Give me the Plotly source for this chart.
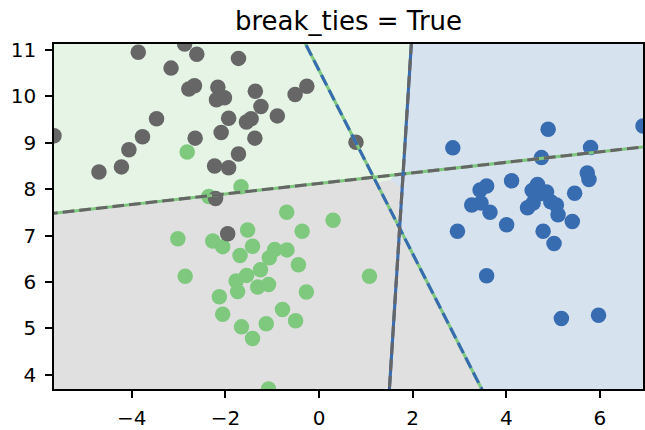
import numpy as np
import plotly.graph_objects as go

# ---------------- data ----------------
# class 0 (green points)
x0 = [-2.815, -2.355, -1.666, -0.69, -3.015, -2.858, -2.27, -2.057, -1.525, -1.42,
      -1.687, -0.946, -1.06, -0.685, -0.36, 0.30, -0.44, -0.27, -1.25, -1.546,
      -1.77, -1.738, -1.31, -1.078, -2.128, -2.057, -0.78, -0.50, -1.655, -1.127,
      -1.42, -1.078, 1.078]
y0 = [8.80, 7.84, 8.05, 7.50, 6.93, 6.12, 6.88, 6.76, 7.12, 6.77,
      6.57, 6.70, 6.52, 6.69, 7.09, 7.33, 6.37, 5.78, 6.26, 6.14,
      6.02, 5.79, 5.89, 5.945, 5.68, 5.30, 5.405, 5.16, 5.03, 5.095,
      4.78, 3.69, 6.12]

# class 1 (blue points)
x1 = [4.894, 2.858, 5.80, 4.752, 5.73, 5.766, 4.113, 3.58, 3.44, 4.666,
      4.553, 4.86, 4.716, 5.46, 3.262, 3.46, 3.652, 4.454, 4.574, 4.95,
      5.07, 5.106, 5.41, 4.007, 2.957, 4.787, 5.02, 3.58, 5.177, 5.97,
      6.92]
y1 = [9.29, 8.89, 8.90, 8.68, 8.35, 8.21, 8.18, 8.07, 7.98, 8.10,
      7.97, 7.94, 7.90, 7.91, 7.66, 7.70, 7.50, 7.60, 7.70, 7.73,
      7.66, 7.45, 7.30, 7.23, 7.09, 7.09, 6.83, 6.13, 5.21, 5.28,
      9.36]

# class 2 (grey points)
x2 = [-2.87, -2.61, -1.72, -3.16, -2.78, -2.66, -2.16, -2.19, -2.02, -1.36,
      -0.51, -0.26, -1.24, -0.89, -1.93, -1.55, -1.45, -2.09, -1.37, -2.645,
      -1.72, -2.23, -1.93, -5.66, -4.70, -4.22, -4.06, -3.77, -3.47, -3.86,
      -2.21, -1.95, 0.79]
y2 = [11.13, 10.91, 10.82, 10.61, 10.16, 10.23, 10.20, 9.93, 9.97, 10.11,
      10.04, 10.22, 9.78, 9.58, 9.53, 9.45, 9.52, 9.22, 9.10, 9.10,
      8.76, 8.50, 8.46, 9.15, 8.37, 8.48, 8.85, 9.13, 9.52, 10.95,
      7.80, 7.04, 9.01]

# one-vs-one linear classifiers for class pairs (0,1), (0,2), (1,2)
pairs = [(0, 1), (0, 2), (1, 2)]
coef_x = [-0.803, 0.282, 0.998]
coef_y = [-0.406, -2.484, -0.0628]
intercepts = [4.289, 20.18, -1.269]

title_text = "break_ties = True"
xtick_vals = [-4, -2, 0, 2, 4, 6]
ytick_vals = [4, 5, 6, 7, 8, 9, 10, 11]

# Accent colormap entries 0, 4, 7
class_colors = ["#7fc97f", "#386cb0", "#666666"]

# ---------------- derived ----------------
xs_all = np.array(x0 + x1 + x2)
ys_all = np.array(y0 + y1 + y2)
xlim = [xs_all.min(), xs_all.max()]
ylim = [ys_all.min(), ys_all.max()]


def blend(hexcol, alpha=0.2):
    h = hexcol.lstrip("#")
    r, g, b = (int(h[i:i + 2], 16) for i in (0, 2, 4))
    f = lambda c: int(round(alpha * c + (1 - alpha) * 255))
    return "rgb(%d,%d,%d)" % (f(r), f(g), f(b))


# background predicted with ovr decision + tie breaking
gx = np.linspace(xlim[0], xlim[1], 640)
gy = np.linspace(ylim[0], ylim[1], 380)
XX, YY = np.meshgrid(gx, gy)
votes = np.zeros((3,) + XX.shape)
conf = np.zeros((3,) + XX.shape)
for k, (i, j) in enumerate(pairs):
    d = coef_x[k] * XX + coef_y[k] * YY + intercepts[k]
    votes[i] += d > 0
    votes[j] += d <= 0
    conf[i] += d
    conf[j] -= d
score = votes + conf / (3 * (np.abs(conf) + 1))
pred = np.argmax(score, axis=0).astype(np.int8)

# imshow(-pred, cmap=Accent): pred 0 -> grey, 1 -> blue, 2 -> green
bg = [blend(class_colors[2]), blend(class_colors[1]), blend(class_colors[0])]
colorscale = [[0.0, bg[0]], [1 / 3, bg[0]], [1 / 3, bg[1]], [2 / 3, bg[1]],
              [2 / 3, bg[2]], [1.0, bg[2]]]

fig = go.Figure()
fig.add_trace(go.Heatmap(x=gx, y=gy, z=pred, zmin=-0.5, zmax=2.5,
                         colorscale=colorscale, showscale=False,
                         zsmooth=False, hoverinfo="skip"))

for xs, ys, col in ((x0, y0, class_colors[0]), (x1, y1, class_colors[1]),
                    (x2, y2, class_colors[2])):
    fig.add_trace(go.Scatter(x=xs, y=ys, mode="markers",
                             marker=dict(size=15.5, color=col, line=dict(width=0)),
                             hoverinfo="skip"))

line = np.linspace(ylim[0] - 5, ylim[1] + 5, 50)
for k, (i, j) in enumerate(pairs):
    lx = -(line * coef_y[k] + intercepts[k]) / coef_x[k]
    fig.add_trace(go.Scatter(x=lx, y=line, mode="lines",
                             line=dict(color=class_colors[i], width=3.1),
                             hoverinfo="skip"))
    fig.add_trace(go.Scatter(x=lx, y=line, mode="lines",
                             line=dict(color=class_colors[j], width=3.1,
                                       dash="11.7px,5px"),
                             hoverinfo="skip"))

axis_common = dict(ticks="outside", ticklen=7, tickwidth=1.7, tickcolor="black",
                   showline=True, linecolor="black", linewidth=1.7, mirror=True,
                   showgrid=False, zeroline=False,
                   tickfont=dict(family="DejaVu Sans", size=20, color="black"))

fig.update_layout(
    width=645, height=430,
    margin=dict(l=54, r=0, t=44, b=37),
    paper_bgcolor="white", plot_bgcolor="white",
    showlegend=False,
    font=dict(family="DejaVu Sans", color="black"),
    title=dict(text=title_text, x=0.5, xref="paper", xanchor="center",
               y=1 - 21 / 430, yref="container", yanchor="middle",
               font=dict(family="DejaVu Sans", size=26, color="black")),
    xaxis=dict(range=xlim, tickvals=xtick_vals, ticklabelstandoff=3, **axis_common),
    yaxis=dict(range=ylim, tickvals=ytick_vals, ticklabelstandoff=5, **axis_common),
)

fig.write_html("out.html")
